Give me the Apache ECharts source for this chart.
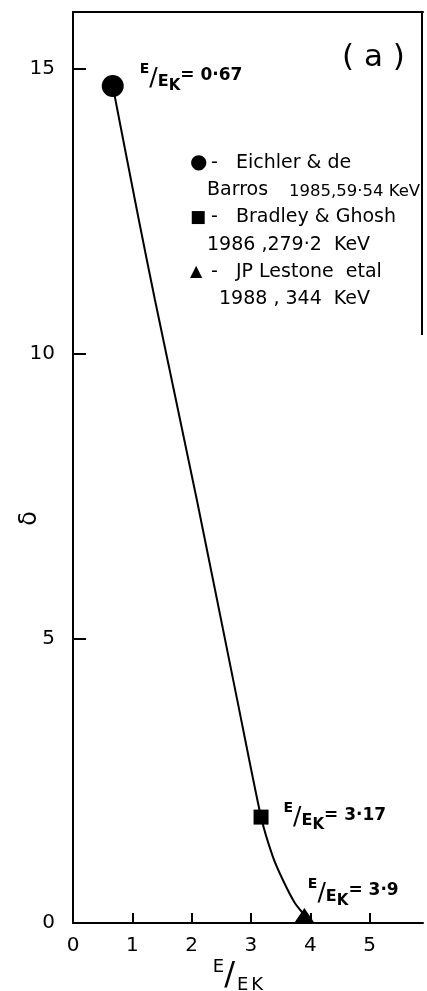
<!DOCTYPE html>
<html><head><meta charset="utf-8">
<script src="https://cdn.jsdelivr.net/npm/echarts@6/dist/echarts.min.js"></script>
<style>html,body{margin:0;padding:0;background:#fff}#c{width:427px;height:991px}</style>
</head><body><div id="c"></div>
<script>
// ---- data ----
const xTickLabels = [0, 1, 2, 3, 4, 5];
const yTickLabels = [0, 5, 10, 15];
const curveX = [0.67, 1.10, 1.38, 2.09, 2.77, 3.17, 3.37, 3.54, 3.74, 3.90];
const curveY = [14.70, 12.40, 10.95, 7.42, 3.91, 1.86, 1.16, 0.75, 0.35, 0.14];
const pointNames = ['Eichler & de Barros 1985, 59·54 KeV', 'Bradley & Ghosh 1986, 279·2 KeV', 'JP Lestone etal 1988, 344 KeV'];
const pointX = [0.67, 3.17, 3.90];
const pointY = [14.70, 1.86, 0.14];
const ratioLabels = ['0·67', '3·17', '3·9'];
const legendSymbols = ['●', '■', '▲'];
const legendFirst = ['Eichler & de', 'Bradley & Ghosh', 'JP Lestone  etal'];
const legendSecondA = ['Barros', '1986 ,279·2  KeV', '1988 , 344  KeV'];
const legendSecondB = ['1985,59·54 KeV', '', ''];

const FONT = 'DejaVu Sans';
const chart = echarts.init(document.getElementById('c'));

const ratioRich = {
  a: {fontSize: 14, fontWeight: 'bold', fontFamily: FONT, color: '#000', verticalAlign: 'top', lineHeight: 32},
  b: {fontSize: 25, fontFamily: FONT, color: '#000', verticalAlign: 'middle', lineHeight: 32},
  c: {fontSize: 16, fontWeight: 'bold', fontFamily: FONT, color: '#000', verticalAlign: 'middle', lineHeight: 32, padding: [7, 0, 0, 0]},
  d: {fontSize: 15, fontWeight: 'bold', fontFamily: FONT, color: '#000', verticalAlign: 'bottom', lineHeight: 32},
  e: {fontSize: 17, fontWeight: 'bold', fontFamily: FONT, color: '#000', verticalAlign: 'middle', lineHeight: 32, padding: [0, 0, 4, 0]}
};
const ratioFmt = r => '{a|E}{b|/}{c|E}{d|K}{e|= ' + r + '}';

const symbols = ['circle', 'rect', 'triangle'];
const symSizes = [22, [15, 15], [19, 14]];
const labelOffsets = [[10, -8], [9, 0], [-12, -22]];

const pointSeries = pointNames.map((n, i) => ({
  name: n,
  type: 'scatter',
  symbol: symbols[i],
  symbolSize: symSizes[i],
  itemStyle: {color: '#000', opacity: 1},
  z: 5,
  data: [[pointX[i], pointY[i]]],
  label: {
    show: true, position: 'right', offset: labelOffsets[i], distance: 6,
    formatter: () => ratioFmt(ratioLabels[i]), rich: ratioRich
  }
}));

// legend text placement
const legendGraphics = [];
const symFont = [20, 17, 16];
legendSymbols.forEach((s, i) => {
  const y1 = 163 + i * 54.5, y2 = y1 + 27.5;
  const ts = (text, x, y, size) => ({type: 'text', x: x, y: y, style: {text: text, fontSize: size, fontFamily: FONT, fill: '#000', textVerticalAlign: 'middle'}});
  legendGraphics.push(ts(s, 190, y1, symFont[i]));
  legendGraphics.push(ts('-', 211, y1, 19));
  legendGraphics.push(ts(legendFirst[i], 236, y1, 19));
  legendGraphics.push(ts(legendSecondA[i], i === 2 ? 219 : 207, y2, 19));
  if (legendSecondB[i]) legendGraphics.push(ts(legendSecondB[i], 289, y2 + 1, 16.5));
});

chart.setOption({
  animation: false,
  grid: {left: 73, right: 4, top: 12, bottom: 68, outerBoundsMode: 'none', containLabel: false},
  xAxis: [{
    type: 'value', min: 0, max: 5.9, interval: 1,
    axisLine: {lineStyle: {color: '#000', width: 2}},
    axisTick: {show: true, inside: true, length: 10, lineStyle: {color: '#000', width: 2}, customValues: [1, 2, 3, 4, 5]},
    axisLabel: {color: '#000', fontSize: 20, fontFamily: FONT, margin: 13, customValues: xTickLabels},
    splitLine: {show: false},
    name: '{a|E}{b|/}{c|E}{d|K}',
    nameLocation: 'middle', nameGap: 35, nameMoveOverlap: false,
    nameTextStyle: {padding: [0, 20, 0, 0], rich: {
      a: {fontSize: 18, fontFamily: FONT, color: '#000', verticalAlign: 'top', lineHeight: 36},
      b: {fontSize: 32, fontFamily: FONT, color: '#000', verticalAlign: 'middle', lineHeight: 36},
      c: {fontSize: 18, fontFamily: FONT, color: '#000', verticalAlign: 'bottom', lineHeight: 36, padding: [0, 0, 0, 2]},
      d: {fontSize: 18, fontFamily: FONT, color: '#000', verticalAlign: 'bottom', lineHeight: 36, padding: [9, 0, 0, 3]}
    }}
  }, {
    type: 'value', position: 'top', min: 0, max: 5.9,
    axisLine: {show: true, lineStyle: {color: '#000', width: 2}},
    axisTick: {show: false}, axisLabel: {show: false}, splitLine: {show: false}
  }],
  yAxis: {
    type: 'value', min: 0, max: 16, interval: 5,
    axisLine: {show: true, lineStyle: {color: '#000', width: 2}},
    axisTick: {show: true, inside: true, length: 13, lineStyle: {color: '#000', width: 2}, customValues: [5, 10, 15]},
    axisLabel: {color: '#000', fontSize: 20, fontFamily: FONT, margin: 18, customValues: yTickLabels},
    splitLine: {show: false},
    name: 'δ', nameLocation: 'middle', nameRotate: 90, nameGap: 31, nameMoveOverlap: false,
    nameTextStyle: {color: '#000', fontSize: 24, fontFamily: FONT, padding: [0, 102, 0, 0]}
  },
  series: [{
    name: 'curve', type: 'line', smooth: 0.2,
    data: curveX.map((x, i) => [x, curveY[i]]),
    showSymbol: false, symbol: 'none',
    lineStyle: {color: '#000', width: 2}, z: 3
  }].concat(pointSeries),
  graphic: [
    {type: 'text', x: 342, y: 58, style: {text: '( a )', fontSize: 31, fontFamily: FONT, fill: '#000', textVerticalAlign: 'middle'}},
    {type: 'line', shape: {x1: 422, y1: 12, x2: 422, y2: 335}, style: {stroke: '#000', lineWidth: 2}}
  ].concat(legendGraphics)
});
</script></body></html>
